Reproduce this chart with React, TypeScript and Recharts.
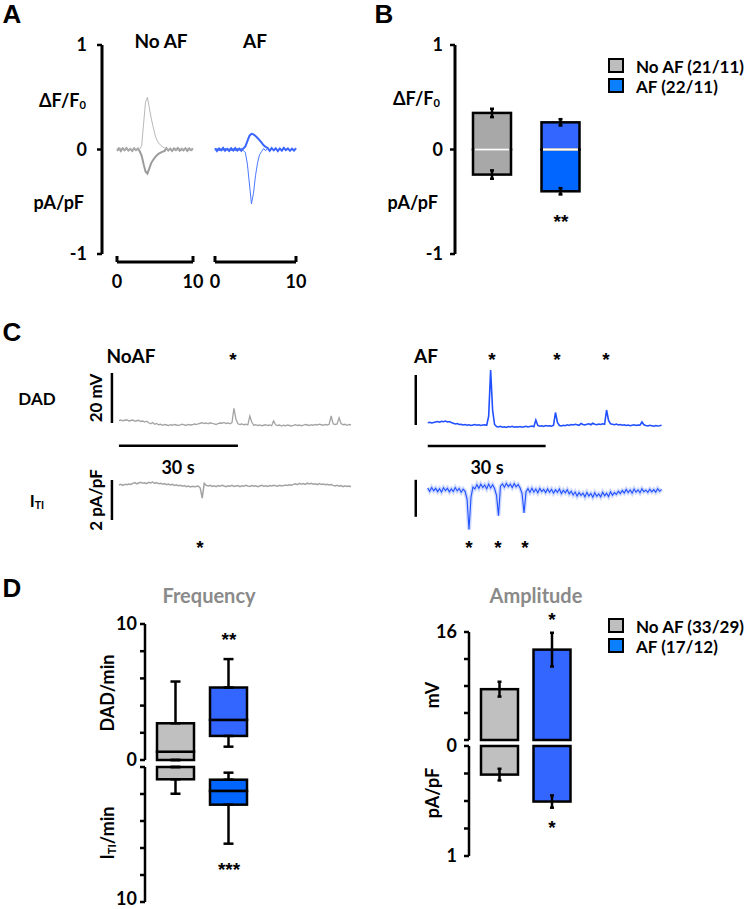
import React from "react";
import {
  LineChart,
  Line,
  BarChart,
  Bar,
  Cell,
  XAxis,
  YAxis,
  ErrorBar,
  ReferenceLine,
} from "recharts";

const FONT = "Lato, 'Open Sans', sans-serif";
const LETTER_FONT = "'Liberation Sans', Arial, sans-serif";

// ---------- panel A: averaged transients, 0..10 s in 0.25 s steps
const A_STEP = 0.25;
const noAfCa = [
  0.01, -0.01, 0.015, 0.0, -0.012, 0.01, -0.005, 0.012, -0.01, 0.008, -0.006, 0.01, 0.0,
  0.04, 0.25, 0.45, 0.5, 0.4, 0.3, 0.22, 0.14, 0.09, 0.06, 0.04, 0.025, 0.015,
  0.01, -0.008, 0.012, 0.0, -0.01, 0.009, -0.006, 0.011, -0.012, 0.006, 0.0, 0.01, -0.008, 0.007, -0.01,
];
const noAfCur = [
  -0.012, 0.01, -0.015, 0.012, -0.008, 0.014, -0.01, 0.006, -0.013, 0.011, -0.007, 0.009, -0.02,
  -0.06, -0.14, -0.21, -0.23, -0.18, -0.13, -0.1, -0.075, -0.055, -0.04, -0.03, -0.02, -0.015,
  0.012, -0.01, 0.008, -0.014, 0.01, -0.006, 0.013, -0.011, 0.007, -0.009, 0.012, -0.013, 0.009, -0.007, 0.011,
];
const afCa = [
  0.012, -0.015, 0.01, -0.008, 0.016, -0.012, 0.006, -0.014, 0.011, -0.009, 0.013, -0.01, 0.008, -0.013, 0.01,
  0.03, 0.08, 0.13, 0.15, 0.145, 0.13, 0.11, 0.09, 0.065, 0.04, 0.025, 0.015,
  -0.012, 0.014, -0.008, 0.012, -0.015, 0.009, -0.011, 0.016, -0.006, 0.01, -0.013, 0.008, -0.01, 0.012,
];
const afCur = [
  -0.01, 0.012, -0.014, 0.008, -0.011, 0.013, -0.007, 0.01, -0.012, 0.009, -0.015, 0.011, -0.006, 0.012, -0.01,
  -0.03, -0.14, -0.33, -0.52, -0.42, -0.25, -0.13, -0.05, -0.02,
  0.01, -0.012, 0.014, -0.009, 0.011, -0.013, 0.008, -0.01, 0.012, -0.014, 0.009, -0.007, 0.013, -0.011, 0.006, -0.012, 0.01,
];

// ---------- panel B
const groups = ["No AF", "AF"];
const bCa = [0.35, 0.26];
const bCaErr = [0.04, 0.03];
const bCur = [-0.24, -0.4];
const bCurErr = [0.04, 0.03];

// ---------- panel C: recordings, 0.5 s steps
const C_STEP = 0.5;
const dadNoAf = [
  1.0, 1.2, 0.9, 1.1, 1.3, 0.8, 1.0, 1.2, 0.7, 0.9, 1.1, 0.6, 0.8,
  0.4, 0.7, 0.1, -0.3, 0.2, -0.5, -0.2,
  -0.7, -0.5, -0.9, -0.6, -0.8, -1.0, -0.7, -0.9, -0.6, -0.8, -1.0, -0.7, -0.5, -0.8, -0.9, -0.6, -0.8, -0.7, -0.4, -0.6, -0.3,
  -0.1, 0.1, -0.2, 0.0, -0.3, 0.1, -0.1, -0.4, -0.6, -0.2, 0.0, -0.1, 0.2, -0.2, 0.0, -0.3,
  0.2, 5.9, 1.5, -0.3,
  -0.6, -0.4, -0.7, -0.5, -0.8,
  2.8, 0.3,
  -0.9, -0.7, -1.0, -0.8, -1.1, -0.9, -0.7, -1.0, -0.8, -1.1,
  0.9, -0.7,
  -1.0, -0.8, -1.2, -0.9, -1.1, -0.8, -1.0, -1.2, -0.9, -0.7, -1.0, -0.8, -1.1, -0.9, -0.6, -0.8, -1.0, -0.7, -0.9, -0.6, -0.8, -0.5, -0.7, -0.9, -0.6, -0.8, -0.5,
  2.8, -0.3, -0.6, -0.4, 2.1, -0.2, -0.7, -0.5, -0.9, -0.6, -0.8,
];
const itiNoAf = [
  0.0, 0.03, -0.02, 0.04, 0.01, 0.05, 0.03,
  0.08, 0.12, 0.06, 0.1, 0.14, 0.09, 0.11, 0.07, 0.13, 0.1, 0.15, 0.08, 0.12, 0.06, 0.09, 0.04, 0.07, 0.02,
  0.05, 0.0, 0.03, -0.02, 0.01, -0.04, -0.01, -0.06, -0.03, -0.08, -0.05, -0.1, -0.06, -0.09, -0.07, -0.05,
  -0.15, -0.66, 0.08, -0.02,
  -0.05, -0.02, -0.07, -0.04, -0.08, -0.03, -0.06, -0.01, -0.05, -0.08, -0.04, -0.06, -0.02, -0.07, -0.05, -0.03, -0.08, -0.04, -0.06, -0.02, -0.05, -0.07, -0.03, -0.06, -0.04, -0.08, -0.05, -0.02, -0.06, -0.04, -0.07, -0.03, -0.05, -0.01, -0.04, -0.06, -0.02, -0.05, -0.03, 0.0, -0.02, 0.01, -0.01,
  0.03, 0.06, 0.02, 0.08, 0.04, 0.07, 0.03, 0.09, 0.05, 0.08, 0.04, 0.06, 0.02, 0.07, 0.03, 0.05, 0.01, 0.04, 0.0, 0.02,
  -0.02, -0.05, -0.01, -0.06, -0.03, -0.08, -0.04, -0.07, -0.05, -0.09,
];
const dadAf = [
  0.9, 1.1, 0.8, 1.0,
  1.2, 1.4, 1.1, 1.5, 1.3, 1.6, 1.2, 1.4,
  1.0, 0.7, 0.4, 0.6, 0.2, 0.3, 0.0, 0.2, -0.1, 0.1, -0.2, 0.0, 0.2, -0.1, 0.1, -0.2, 0.0, 0.1, -0.1,
  3.5, 22, 6.0, 0.2,
  -0.6, -0.8, -0.5, -0.9, -0.7, -1.0, -0.6, -0.8, -0.5, -0.9, -0.7, -0.8, -0.6, -0.9, -0.7, -0.5, -0.8, -0.6, -0.4, -0.7,
  2.0, -0.2,
  -0.5, -0.3, -0.6, -0.2, -0.4, -0.3, -0.5, -0.1,
  5.0, 1.0, -0.2,
  -0.4, -0.1, -0.3, 0.1, -0.2, 0.2, 0.0, 0.3, 0.1, -0.1, 0.6, 0.2, 0.0, 0.3, 0.5, 0.1, 0.7, 0.3, 0.1, 0.4, 0.2, 0.5, 0.3,
  6.0, 1.8, 0.5,
  0.3, 0.1, 0.4, 0.0, 0.2, -0.1, 0.1, -0.2, 0.0, -0.3, -0.1, 0.1, -0.2, 0.0, -0.1,
  1.2, 0.1,
  -0.2, -0.4, -0.1, -0.3, -0.5, -0.2, -0.4, -0.3, -0.1,
];
const itiAf = [
  0.1, -0.08, 0.12, -0.05, 0.08, -0.1, 0.06, -0.12, 0.11, -0.04, 0.09, -0.11, 0.05, -0.09, 0.12, -0.06, 0.07, -0.13, 0.04, -0.08,
  -0.5, -2.15, -0.4, 0.15,
  0.05, 0.28, 0.08, 0.3, 0.12, 0.26, 0.06, 0.31, 0.1, 0.27, 0.07,
  -0.3, -1.4, 0.2,
  0.32, 0.14, 0.35, 0.18, 0.3, 0.12, 0.33, 0.16, 0.29, 0.1,
  -0.2, -1.25, -0.1,
  0.06, -0.14, 0.08, -0.12, 0.04, -0.16, 0.07, -0.1, 0.02, -0.15, 0.05, -0.13, 0.03, -0.18, 0.0, -0.14, 0.04, -0.2, -0.02, -0.16, 0.01,
  -0.22, -0.08, -0.28, -0.12, -0.34, -0.15, -0.3, -0.18, -0.38, -0.14, -0.33, -0.2, -0.4, -0.16, -0.35, -0.22, -0.38, -0.13, -0.32, -0.19, -0.36, -0.11, -0.29, -0.15, -0.25, -0.08,
  -0.2, -0.04, -0.17, 0.02, -0.15, -0.01, -0.18, 0.04, -0.12, 0.0, -0.16, 0.05, -0.1, -0.02, -0.14, 0.03, -0.11, 0.01, -0.13, 0.06, -0.08, 0.02,
];

// ---------- panel D: frequency box plots [min, q1, median, q3, max]
const dadFreqNoAf = [0, 0, 0.61, 2.7, 5.77];
const dadFreqAf = [0.98, 1.77, 2.95, 5.33, 7.42];
const itiFreqNoAf = [0, 0, 0, 0.91, 1.98];
const itiFreqAf = [0.42, 0.94, 1.78, 2.79, 5.68];

// ---------- panel D: amplitude (mean, sem)
const dadAmp = [7.53, 13.39];
const dadAmpErr = [1.1, 2.5];
const itiAmp = [0.26, 0.505];
const itiAmpErr = [0.053, 0.056];

// ---------- tables
const traceA = (ca: number[], cur: number[]) =>
  ca.map((v, i) => ({ t: i * A_STEP, ca: v, cur: cur[i] }));
const bRows = groups.map((name, i) => ({
  name,
  up: bCa[i],
  upErr: bCaErr[i],
  down: bCur[i],
  downErr: bCurErr[i],
}));
const boxRows = (rows: number[][]) =>
  groups.map((name, i) => {
    const [mn, q1, md, q3, mx] = rows[i];
    return {
      name,
      base: q1,
      lo: md - q1,
      hi: q3 - md,
      loErr: [md - mn, q1 - md],
      hiErr: [0, mx - q3],
    };
  });
const freqDad = boxRows([dadFreqNoAf, dadFreqAf]);
const freqIti = boxRows([itiFreqNoAf, itiFreqAf]);
const ampDad = groups.map((name, i) => ({ name, v: dadAmp[i], e: dadAmpErr[i] }));
const ampIti = groups.map((name, i) => ({ name, v: itiAmp[i], e: itiAmpErr[i] }));

const GRAY_B = "#a8a8a8";
const GRAY_D = "#c0c0c0";
const BLUE_HI = "#3366ff";
const BLUE_LO = "#0066ff";
const LEG_BLUE = "#0a80ff";
const TRACE_BLUE = "#2050ff";

const tickFont = { fill: "#000", fontSize: 18, fontWeight: 700, fontFamily: FONT };
const axis3 = { stroke: "#000", strokeWidth: 3 };
const axis25 = { stroke: "#000", strokeWidth: 2.5 };

const boxShape = (p: any) => {
  const top = Math.min(p.y, p.y + p.height);
  const h = Math.abs(p.height);
  if (!h) return <g />;
  return (
    <rect x={p.x} y={top} width={p.width} height={h} fill={p.fill} stroke="#000" strokeWidth={2.5} />
  );
};
const splitShape = (p: any) => {
  const top = Math.min(p.y, p.y + p.height);
  const h = Math.abs(p.height);
  return (
    <g>
      <rect x={p.x} y={top} width={p.width} height={h} fill={p.fill} stroke="#000" strokeWidth={2.5} />
      <line x1={p.x + 1.5} x2={p.x + p.width - 1.5} y1={top} y2={top} stroke="#fff" strokeWidth={2.5} />
    </g>
  );
};

function Txt(props: {
  x: number;
  y: number;
  children: React.ReactNode;
  size?: number;
  weight?: number;
  color?: string;
  rotate?: number;
  anchor?: "middle" | "start" | "end";
  family?: string;
}) {
  const { x, y, children, size = 18, weight = 700, color = "#000", rotate = 0, anchor = "middle", family = FONT } = props;
  const tx = anchor === "middle" ? "-50%" : anchor === "end" ? "-100%" : "0";
  return (
    <div
      style={{
        position: "absolute",
        left: x,
        top: y,
        transform: `translate(${tx},-50%) rotate(${rotate}deg)`,
        fontFamily: family,
        fontSize: size,
        fontWeight: weight,
        color,
        whiteSpace: "nowrap",
        lineHeight: 1,
      }}
    >
      {children}
    </div>
  );
}

const Sub = ({ children }: { children: React.ReactNode }) => (
  <span style={{ fontSize: "0.62em", verticalAlign: "-0.2em", lineHeight: 0 }}>{children}</span>
);

function Star({ x, y, text = "*" }: { x: number; y: number; text?: string }) {
  return (
    <Txt x={x} y={y + 4} size={19} family={LETTER_FONT}>
      {text}
    </Txt>
  );
}

function Legend({ top, items }: { top: number; items: { label: string; color: string }[] }) {
  return (
    <>
      {items.map((it, i) => (
        <React.Fragment key={it.label}>
          <div
            style={{
              position: "absolute",
              left: 608,
              top: top + i * 20,
              width: 12,
              height: 11,
              background: it.color,
              border: "2px solid #000",
            }}
          />
          <Txt x={636} y={top + i * 20 + 8} anchor="start" size={17}>
            {it.label}
          </Txt>
        </React.Fragment>
      ))}
    </>
  );
}

function TraceA({ left, width, data, caColor, curColor, caW, curW }: any) {
  return (
    <div style={{ position: "absolute", left: left - 12, top: 40 }}>
      <LineChart width={width + 24} height={252} data={data} margin={{ top: 5, right: 12, bottom: 0, left: 12 }}>
        <XAxis
          dataKey="t"
          type="number"
          domain={[0, 10]}
          ticks={[0, 10]}
          interval={0}
          height={30}
          tickSize={-6}
          tickMargin={19}
          axisLine={axis3}
          tickLine={axis3}
          tick={tickFont}
        />
        <YAxis hide domain={[-1.0766, 1]} />
        <Line type="linear" dataKey="cur" stroke={curColor} strokeWidth={curW} dot={false} isAnimationActive={false} />
        <Line type="linear" dataKey="ca" stroke={caColor} strokeWidth={caW} dot={false} isAnimationActive={false} />
      </LineChart>
    </div>
  );
}

function TraceC(p: {
  values: number[];
  color: string;
  x0: number;
  pxs: number;
  y0: number;
  pxu: number;
  yMin: number;
  yMax: number;
  tMin: number;
  tMax: number;
  bar: number[];
  hbar?: number;
  band?: boolean;
  lw?: number;
}) {
  const data = p.values.map((v, i) => ({ t: i * C_STEP, v }));
  const w = (p.tMax - p.tMin) * p.pxs;
  const h = (p.yMax - p.yMin) * p.pxu;
  const left = p.x0 + p.tMin * p.pxs;
  const top = p.y0 - p.yMax * p.pxu;
  return (
    <div style={{ position: "absolute", left, top }}>
      <LineChart width={w} height={h} data={data} margin={{ top: 0, right: 0, bottom: 0, left: 0 }}>
        <XAxis dataKey="t" type="number" domain={[p.tMin, p.tMax]} hide />
        <YAxis domain={[p.yMin, p.yMax]} hide />
        <ReferenceLine
          segment={[
            { x: p.bar[0], y: p.bar[1] },
            { x: p.bar[0], y: p.bar[2] },
          ]}
          stroke="#000"
          strokeWidth={2.5}
          ifOverflow="visible"
        />
        {p.hbar !== undefined && (
          <ReferenceLine
            segment={[
              { x: 0, y: p.hbar },
              { x: 30, y: p.hbar },
            ]}
            stroke="#000"
            strokeWidth={2.5}
            ifOverflow="visible"
          />
        )}
        {p.band && (
          <Line
            key="band"
            type="linear"
            dataKey="v"
            stroke={p.color}
            strokeOpacity={0.22}
            strokeWidth={4}
            dot={false}
            isAnimationActive={false}
          />
        )}
        <Line
          key="core"
          type="linear"
          dataKey="v"
          stroke={p.color}
          strokeWidth={p.lw ?? 1.3}
          dot={false}
          isAnimationActive={false}
        />
      </LineChart>
    </div>
  );
}

export default function App() {
  return (
    <div
      style={{
        position: "absolute",
        left: 0,
        top: 0,
        width: 747,
        height: 909,
        background: "#fff",
        overflow: "hidden",
      }}
    >
      {/* ---------------- A ---------------- */}
      <Txt x={12} y={14} size={26} family={LETTER_FONT}>A</Txt>
      <Txt x={161} y={40} size={19}>No AF</Txt>
      <Txt x={255} y={40} size={19}>AF</Txt>
      <Txt x={86} y={100} size={18} anchor="end">
        ΔF/F<Sub>0</Sub>
      </Txt>
      <Txt x={84} y={202} size={18} anchor="end">pA/pF</Txt>
      <div style={{ position: "absolute", left: 52, top: 31 }}>
        <LineChart width={62} height={237} data={traceA(noAfCa, noAfCur)} margin={{ top: 14, right: 0, bottom: 14, left: 0 }}>
          <XAxis dataKey="t" type="number" domain={[0, 10]} hide />
          <YAxis
            width={50}
            domain={[-1, 1]}
            ticks={[-1, 0, 1]}
            interval={0}
            tickSize={5}
            tickMargin={10}
            axisLine={axis3}
            tickLine={axis25}
            tick={tickFont}
          />
          <Line type="linear" dataKey="ca" stroke="none" dot={false} isAnimationActive={false} />
        </LineChart>
      </div>
      <TraceA left={117} width={76} data={traceA(noAfCa, noAfCur)} caColor="#b8b8b8" curColor="#9c9c9c" caW={1} curW={2} />
      <TraceA left={215} width={81} data={traceA(afCa, afCur)} caColor="#3a66ff" curColor="#4a78ff" caW={2} curW={1} />

      {/* ---------------- B ---------------- */}
      <Txt x={384} y={14} size={26} family={LETTER_FONT}>B</Txt>
      <Txt x={440} y={98} size={18} anchor="end">
        ΔF/F<Sub>0</Sub>
      </Txt>
      <Txt x={438} y={202} size={18} anchor="end">pA/pF</Txt>
      <div style={{ position: "absolute", left: 405, top: 31 }}>
        <BarChart width={190} height={237} data={bRows} stackOffset="sign" barSize={38} margin={{ top: 14, right: 0, bottom: 14, left: 0 }}>
          <XAxis dataKey="name" hide padding={{ left: 3, right: 0 }} />
          <YAxis
            width={50}
            domain={[-1, 1]}
            ticks={[-1, 0, 1]}
            interval={0}
            tickSize={5}
            tickMargin={7}
            axisLine={axis3}
            tickLine={axis25}
            tick={tickFont}
          />
          <Bar dataKey="up" stackId="s" shape={boxShape} isAnimationActive={false}>
            {bRows.map((r, i) => (
              <Cell key={r.name} fill={i === 0 ? GRAY_B : BLUE_HI} />
            ))}
            <ErrorBar dataKey="upErr" direction="y" width={2} strokeWidth={2.5} stroke="#000" />
          </Bar>
          <Bar dataKey="down" stackId="s" shape={splitShape} isAnimationActive={false}>
            {bRows.map((r, i) => (
              <Cell key={r.name} fill={i === 0 ? GRAY_B : BLUE_LO} />
            ))}
            <ErrorBar dataKey="downErr" direction="y" width={2} strokeWidth={2.5} stroke="#000" />
          </Bar>
        </BarChart>
      </div>
      <Star x={561} y={217} text="**" />
      <Legend
        top={58}
        items={[
          { label: "No AF (21/11)", color: "#bdbdbd" },
          { label: "AF (22/11)", color: LEG_BLUE },
        ]}
      />

      {/* ---------------- C ---------------- */}
      <Txt x={12} y={332} size={26} family={LETTER_FONT}>C</Txt>
      <Txt x={131} y={355} size={19}>NoAF</Txt>
      <Txt x={426} y={355} size={19}>AF</Txt>
      <Txt x={37} y={398} size={17}>DAD</Txt>
      <Txt x={37} y={500} size={17}>
        I<Sub>TI</Sub>
      </Txt>
      <Txt x={95} y={398} size={17} rotate={-90}>20 mV</Txt>
      <Txt x={95} y={500} size={17} rotate={-90}>2 pA/pF</Txt>
      <Txt x={178} y={467} size={18}>30 s</Txt>
      <Txt x={487} y={467} size={18}>30 s</Txt>
      <TraceC values={dadNoAf} color="#a3a3a3" x0={119} pxs={3.967} y0={423.3} pxu={2.5} yMin={-12} yMax={24} tMin={-2.5} tMax={59.5} bar={[-1.76, 0, 20]} hbar={-9.1} lw={1.3} />
      <TraceC values={itiNoAf} color="#a3a3a3" x0={119} pxs={3.967} y0={485} pxu={20} yMin={-2.2} yMax={0.6} tMin={-2.5} tMax={59.5} bar={[-1.76, 0.25, -1.75]} lw={1.5} />
      <TraceC values={dadAf} color={TRACE_BLUE} x0={428} pxs={3.93} y0={425} pxu={2.5} yMin={-12} yMax={24} tMin={-3.5} tMax={60.5} bar={[-3.05, 0, 20]} hbar={-8.4} lw={1.6} />
      <TraceC values={itiAf} color={TRACE_BLUE} x0={428} pxs={3.93} y0={490} pxu={18.5} yMin={-2.5} yMax={0.8} tMin={-3.5} tMax={60.5} bar={[-3.05, 0.54, -1.46]} band lw={1.1} />
      <Star x={233} y={355} />
      <Star x={492} y={355} />
      <Star x={557} y={355} />
      <Star x={606} y={355} />
      <Star x={200} y={543} />
      <Star x={469} y={543} />
      <Star x={498} y={543} />
      <Star x={525} y={543} />

      {/* ---------------- D ---------------- */}
      <Txt x={12} y={588} size={26} family={LETTER_FONT}>D</Txt>
      <Txt x={209} y={595} size={20} color="#8a8a8a">Frequency</Txt>
      <Txt x={536} y={595} size={20} color="#8a8a8a">Amplitude</Txt>
      <Txt x={107} y={693} size={18} rotate={-90}>DAD/min</Txt>
      <Txt x={107} y={833} size={18} rotate={-90}>
        I<Sub>TI</Sub>/min
      </Txt>
      <Txt x={432} y={695} size={18} rotate={-90}>mV</Txt>
      <Txt x={432} y={793} size={18} rotate={-90}>pA/pF</Txt>

      <div style={{ position: "absolute", left: 95, top: 610 }}>
        <BarChart width={160} height={164} data={freqDad} barSize={37} margin={{ top: 14, right: 0, bottom: 14, left: 0 }}>
          <XAxis dataKey="name" hide padding={{ left: 4, right: 0 }} />
          <YAxis
            width={50}
            domain={[0, 10]}
            ticks={[0, 2, 4, 6, 8, 10]}
            interval={0}
            tickFormatter={(v: number) => (v === 0 || v === 10 ? String(v) : "")}
            tickSize={5}
            tickMargin={3}
            axisLine={axis25}
            tickLine={axis25}
            tick={tickFont}
          />
          <Bar dataKey="base" stackId="b" fill="none" isAnimationActive={false} />
          <Bar dataKey="lo" stackId="b" shape={boxShape} isAnimationActive={false}>
            {freqDad.map((r, i) => (
              <Cell key={r.name} fill={i === 0 ? GRAY_D : BLUE_HI} />
            ))}
            <ErrorBar dataKey="loErr" direction="y" width={5} strokeWidth={2.5} stroke="#000" />
          </Bar>
          <Bar dataKey="hi" stackId="b" shape={boxShape} isAnimationActive={false}>
            {freqDad.map((r, i) => (
              <Cell key={r.name} fill={i === 0 ? GRAY_D : BLUE_HI} />
            ))}
            <ErrorBar dataKey="hiErr" direction="y" width={5} strokeWidth={2.5} stroke="#000" />
          </Bar>
        </BarChart>
      </div>
      <div style={{ position: "absolute", left: 95, top: 753 }}>
        <BarChart width={160} height={156} data={freqIti} barSize={37} margin={{ top: 14, right: 0, bottom: 7, left: 0 }}>
          <XAxis dataKey="name" hide padding={{ left: 4, right: 0 }} />
          <YAxis
            width={50}
            reversed
            domain={[0, 10]}
            ticks={[0, 2, 4, 6, 8, 10]}
            interval={0}
            tickFormatter={(v: number) => (v === 10 ? "10" : "")}
            tickSize={5}
            tickMargin={3}
            axisLine={axis25}
            tickLine={axis25}
            tick={{ ...tickFont, dy: -3 }}
          />
          <Bar dataKey="base" stackId="b" fill="none" isAnimationActive={false} />
          <Bar dataKey="lo" stackId="b" shape={boxShape} isAnimationActive={false}>
            {freqIti.map((r, i) => (
              <Cell key={r.name} fill={i === 0 ? GRAY_D : BLUE_LO} />
            ))}
            <ErrorBar dataKey="loErr" direction="y" width={5} strokeWidth={2.5} stroke="#000" />
          </Bar>
          <Bar dataKey="hi" stackId="b" shape={boxShape} isAnimationActive={false}>
            {freqIti.map((r, i) => (
              <Cell key={r.name} fill={i === 0 ? GRAY_D : BLUE_LO} />
            ))}
            <ErrorBar dataKey="hiErr" direction="y" width={5} strokeWidth={2.5} stroke="#000" />
          </Bar>
        </BarChart>
      </div>
      <Star x={229} y={635} text="**" />
      <Star x={229} y={865} text="***" />

      <div style={{ position: "absolute", left: 419, top: 618 }}>
        <BarChart width={159} height={136} data={ampDad} barSize={37} margin={{ top: 14, right: 0, bottom: 14, left: 0 }}>
          <XAxis dataKey="name" hide padding={{ left: 4, right: 0 }} />
          <YAxis
            width={50}
            domain={[0, 16]}
            ticks={[0, 4, 8, 12, 16]}
            interval={0}
            tickFormatter={(v: number) => (v === 16 ? "16" : "")}
            tickSize={5}
            tickMargin={7}
            axisLine={axis25}
            tickLine={axis25}
            tick={tickFont}
          />
          <Bar dataKey="v" shape={boxShape} isAnimationActive={false}>
            {ampDad.map((r, i) => (
              <Cell key={r.name} fill={i === 0 ? GRAY_D : BLUE_HI} />
            ))}
            <ErrorBar dataKey="e" direction="y" width={2} strokeWidth={2.5} stroke="#000" />
          </Bar>
        </BarChart>
      </div>
      <div style={{ position: "absolute", left: 419, top: 732 }}>
        <BarChart width={159} height={138} data={ampIti} barSize={37} margin={{ top: 14, right: 0, bottom: 14, left: 0 }}>
          <XAxis dataKey="name" hide padding={{ left: 4, right: 0 }} />
          <YAxis
            width={50}
            reversed
            domain={[0, 1]}
            ticks={[0, 0.25, 0.5, 0.75, 1]}
            interval={0}
            tickFormatter={(v: number) => (v === 0 || v === 1 ? String(v) : "")}
            tickSize={5}
            tickMargin={7}
            axisLine={axis25}
            tickLine={axis25}
            tick={tickFont}
          />
          <Bar dataKey="v" shape={boxShape} isAnimationActive={false}>
            {ampIti.map((r, i) => (
              <Cell key={r.name} fill={i === 0 ? GRAY_D : BLUE_HI} />
            ))}
            <ErrorBar dataKey="e" direction="y" width={2} strokeWidth={2.5} stroke="#000" />
          </Bar>
        </BarChart>
      </div>
      <Star x={552} y={615} />
      <Star x={552} y={823} />
      <Legend
        top={618}
        items={[
          { label: "No AF (33/29)", color: "#bfbfbf" },
          { label: "AF (17/12)", color: LEG_BLUE },
        ]}
      />
    </div>
  );
}
